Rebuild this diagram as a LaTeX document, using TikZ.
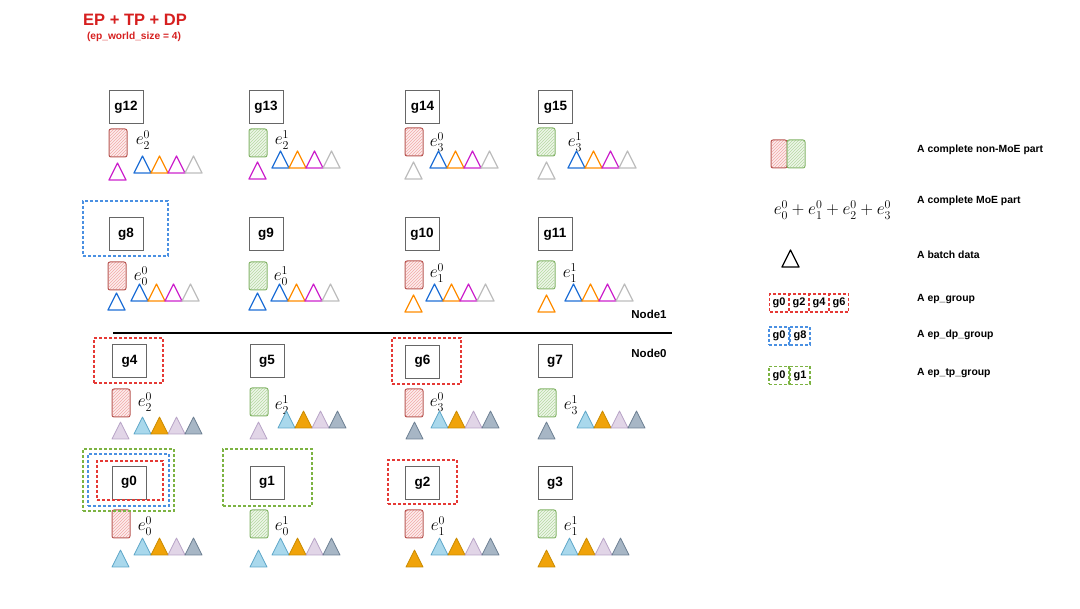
\documentclass[tikz,border=0pt]{standalone}
\usepackage{fontspec}
\setmainfont{Liberation Sans}
\usetikzlibrary{patterns}
\definecolor{titlered}{HTML}{D61F1F}
\definecolor{blueO}{HTML}{1F6FD6}
\definecolor{orangeO}{HTML}{FF8C00}
\definecolor{magO}{HTML}{CC22CC}
\definecolor{grayO}{HTML}{BDBDBD}
\definecolor{lbfill}{HTML}{A9D8EC}
\definecolor{lbdraw}{HTML}{5DA6C8}
\definecolor{orfill}{HTML}{F0A30A}
\definecolor{ordraw}{HTML}{C98A00}
\definecolor{lavfill}{HTML}{E1D5E7}
\definecolor{lavdraw}{HTML}{B7A3C6}
\definecolor{slfill}{HTML}{A7B6C5}
\definecolor{sldraw}{HTML}{6C7F92}
\definecolor{rdraw}{HTML}{B85450}
\definecolor{rfill}{HTML}{FCEDED}
\definecolor{rhatch}{HTML}{F2A9A7}
\definecolor{gdraw}{HTML}{82B366}
\definecolor{gfill}{HTML}{EEF6EA}
\definecolor{ghatch}{HTML}{B5D9A1}
\definecolor{grpR}{HTML}{E53935}
\definecolor{grpB}{HTML}{4A90E2}
\definecolor{grpG}{HTML}{7CB342}
\tikzset{
  gpu/.style={draw=black!60, line width=0.9pt, minimum width=34pt, minimum height=33pt, inner sep=0pt, font=\fontsize{13.5}{14}\selectfont\bfseries},
  elab/.style={inner sep=0pt, font=\fontsize{17.5}{19}\selectfont},
  tb/.style={draw=blueO, line width=1.3pt},
  to/.style={draw=orangeO, line width=1.3pt},
  tm/.style={draw=magO, line width=1.3pt},
  tg/.style={draw=grayO, line width=1.3pt},
  tk/.style={draw=black, line width=1.3pt},
  fb/.style={draw=lbdraw, fill=lbfill, line width=0.8pt},
  fo/.style={draw=ordraw, fill=orfill, line width=0.8pt},
  fl/.style={draw=lavdraw, fill=lavfill, line width=0.8pt},
  fs/.style={draw=sldraw, fill=slfill, line width=0.8pt},
  grp/.style={line width=1.2pt, dash pattern=on 3pt off 2pt, inner sep=0pt},
  grpred/.style={grp, draw=grpR},
  grpblue/.style={grp, draw=grpB},
  grpgreen/.style={grp, draw=grpG},
  lgbox/.style={minimum width=19pt, minimum height=18pt, font=\fontsize{11}{12}\selectfont\bfseries},
  lgtext/.style={anchor=west, inner sep=0pt, font=\fontsize{10.4}{12}\selectfont\bfseries},
  nodelab/.style={inner sep=0pt, font=\fontsize{11.5}{13}\selectfont\bfseries}
}
\newcommand\tri[3]{\draw[#3, line join=round] (#1,#2) -- ++(8.5,-17) -- ++(8.5,17) -- cycle;}
\newcommand\rowO[2]{\tri{#1}{#2}{tb}\tri{#1+17}{#2}{to}\tri{#1+34}{#2}{tm}\tri{#1+51}{#2}{tg}}
\newcommand\rowF[2]{\tri{#1}{#2}{fb}\tri{#1+17}{#2}{fo}\tri{#1+34}{#2}{fl}\tri{#1+51}{#2}{fs}}
% non-MoE part: #1 = r or g, #2 x, #3 y, #4 width
\newcommand\nmpart[4]{%
  \fill[#1fill, rounded corners=2pt] (#2,#3) rectangle ++(#4,28);
  \fill[pattern=north east lines, pattern color=#1hatch] (#2+1,#3+1) rectangle ++(#4-2,26);
  \draw[#1draw, line width=1pt, rounded corners=2pt] (#2,#3) rectangle ++(#4,28);}
\begin{document}
\begin{tikzpicture}[x=1pt,y=-1pt]
\useasboundingbox (0,0) rectangle (1080,609);
% title
\node[anchor=west, inner sep=0pt, text=titlered, font=\fontsize{16.5}{19}\selectfont\bfseries] (title) at (83,20) {EP + TP + DP};
\node[inner sep=0pt, text=titlered, font=\fontsize{10.2}{12}\selectfont\bfseries] (subtitle) at (134,37) {(ep\_world\_size = 4)};

% ---------- row g12..g15
\node[gpu] (g12) at (126,107) {g12};
\node[gpu] (g13) at (266,107) {g13};
\node[gpu] (g14) at (422.5,107) {g14};
\node[gpu] (g15) at (555.5,107) {g15};
\nmpart{r}{109}{129}{18} \nmpart{g}{249}{129}{18} \nmpart{r}{405}{128}{18} \nmpart{g}{537}{128}{18}
\node[elab] (e12) at (143,140) {$e_2^0$};
\node[elab] (e13) at (282,140) {$e_2^1$};
\node[elab] (e14) at (437,142) {$e_3^0$};
\node[elab] (e15) at (575,142) {$e_3^1$};
\rowO{134}{173} \rowO{272}{168} \rowO{430}{168} \rowO{568}{168}
\tri{109}{180}{tm} \tri{249}{179}{tm} \tri{405}{179}{tg} \tri{538}{179}{tg}

% ---------- row g8..g11
\node[gpu] (g8) at (126,234) {g8};
\node[gpu] (g9) at (266,234) {g9};
\node[gpu] (g10) at (422,234) {g10};
\node[gpu] (g11) at (555,234) {g11};
\nmpart{r}{108}{262}{18} \nmpart{g}{249}{262}{18} \nmpart{r}{405}{261}{18} \nmpart{g}{537}{261}{18}
\node[elab] (e8) at (141,276) {$e_0^0$};
\node[elab] (e9) at (281,276) {$e_0^1$};
\node[elab] (e10) at (437,273) {$e_1^0$};
\node[elab] (e11) at (570,273) {$e_1^1$};
\rowO{131}{301} \rowO{271}{301} \rowO{426}{301} \rowO{565}{301}
\tri{108}{310}{tb} \tri{249}{310}{tb} \tri{405}{312}{to} \tri{538}{312}{to}
\node[grpblue, minimum width=85pt, minimum height=55pt] (dp8) at (125.5,228.5) {};

% ---------- node separator
\coordinate (sepL) at (113,333);
\coordinate (sepR) at (672,333);
\draw[line width=1.3pt] (sepL) -- (sepR);
\node[nodelab] (node1) at (649,314) {Node1};
\node[nodelab] (node0) at (649,353) {Node0};

% ---------- row g4..g7
\node[gpu] (g4) at (129.5,361) {g4};
\node[gpu] (g5) at (267,361) {g5};
\node[gpu] (g6) at (422.5,361.5) {g6};
\node[gpu] (g7) at (555,361) {g7};
\nmpart{r}{112}{389}{18} \nmpart{g}{250}{388}{18} \nmpart{r}{405}{389}{18} \nmpart{g}{538}{389}{18}
\node[elab] (e4) at (145,402) {$e_2^0$};
\node[elab] (e5) at (282,405) {$e_2^1$};
\node[elab] (e6) at (437,402) {$e_3^0$};
\node[elab] (e7) at (571,405) {$e_3^1$};
\rowF{134}{434} \rowF{278}{428} \rowF{431}{428} \rowF{577}{428}
\tri{112}{439}{fl} \tri{250}{439}{fl} \tri{406}{439}{fs} \tri{538}{439}{fs}
\node[grpred, minimum width=69pt, minimum height=45pt] (ep4) at (128.5,360.5) {};
\node[grpred, minimum width=69pt, minimum height=46pt] (ep6) at (426.5,361) {};

% ---------- row g0..g3
\node[gpu] (g0) at (129,482.5) {g0};
\node[gpu] (g1) at (267,482.5) {g1};
\node[gpu] (g2) at (422.5,483) {g2};
\node[gpu] (g3) at (555,483) {g3};
\nmpart{r}{112}{510}{18} \nmpart{g}{250}{510}{18} \nmpart{r}{405}{510}{18} \nmpart{g}{538}{510}{18}
\node[elab] (e0) at (145,526) {$e_0^0$};
\node[elab] (e1) at (282,526) {$e_0^1$};
\node[elab] (e2) at (438,526) {$e_1^0$};
\node[elab] (e3) at (571,526) {$e_1^1$};
\rowF{134}{555} \rowF{272}{555} \rowF{431}{555} \rowF{561}{555}
\tri{112}{567}{fb} \tri{250}{567}{fb} \tri{406}{567}{fo} \tri{538}{567}{fo}
\node[grpgreen, minimum width=91pt, minimum height=62pt] (tp0) at (128.5,480) {};
\node[grpblue, minimum width=81pt, minimum height=52pt] (dp0) at (128.5,480) {};
\node[grpred, minimum width=66pt, minimum height=39pt] (ep0) at (130,480.5) {};
\node[grpgreen, minimum width=89pt, minimum height=57pt] (tp1) at (267.5,477.5) {};
\node[grpred, minimum width=69pt, minimum height=44pt] (ep2) at (422.5,482) {};

% ---------- legend
\nmpart{r}{771}{140}{16} \nmpart{g}{787}{140}{18}
\node[lgtext] (lg1) at (917,150) {A complete non-MoE part};
\node[elab] (lgf) at (832.5,210) {$e_0^0+e_1^0+e_2^0+e_3^0$};
\node[lgtext] (lg2) at (917,201) {A complete MoE part};
\tri{782}{267}{tk}
\node[lgtext] (lg3) at (917,255) {A batch data};
\node[lgbox, grpred] (lr0) at (779,303) {g0};
\node[lgbox, grpred] (lr2) at (799,303) {g2};
\node[lgbox, grpred] (lr4) at (819,303) {g4};
\node[lgbox, grpred] (lr6) at (839,303) {g6};
\node[lgtext] (lg4) at (917,299) {A ep\_group};
\node[lgbox, grpblue, minimum width=20pt] (lb0) at (779,336) {g0};
\node[lgbox, grpblue, minimum width=20pt] (lb8) at (800,336) {g8};
\node[lgtext] (lg5) at (917,335) {A ep\_dp\_group};
\node[lgbox, grpgreen, minimum width=20pt] (lgr0) at (779,375.5) {g0};
\node[lgbox, grpgreen, minimum width=20pt] (lgr1) at (800,375.5) {g1};
\node[lgtext] (lg6) at (917,373) {A ep\_tp\_group};
\end{tikzpicture}
\end{document}
